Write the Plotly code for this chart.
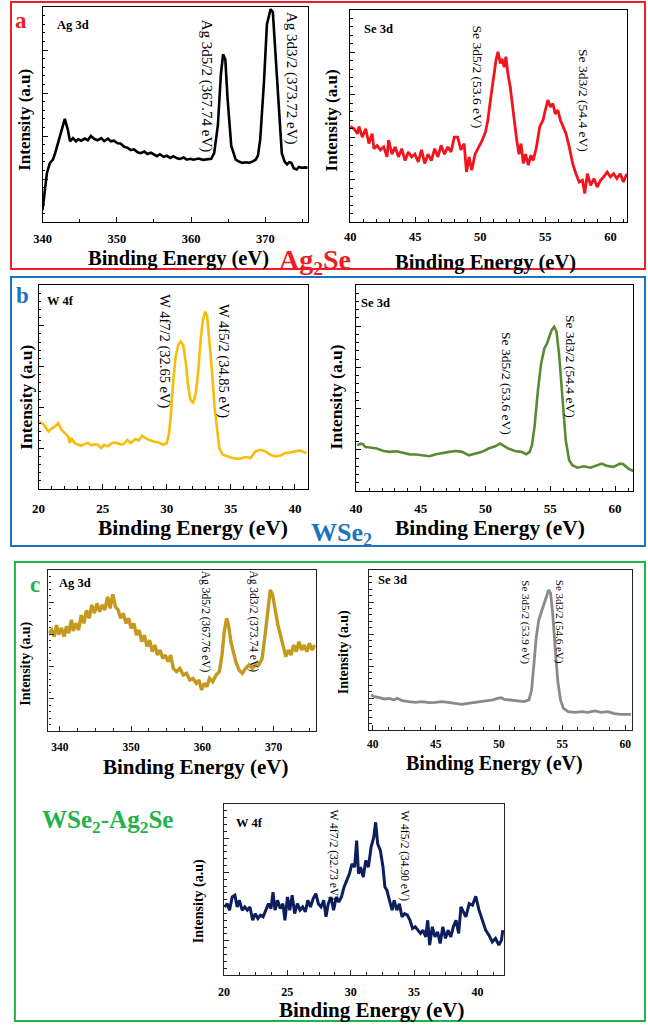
import plotly.graph_objects as go

W, H = 648, 1031

# ---------------- data (binding energy in eV, intensity in a.u.) ----------------
# (a) Ag2Se : Ag 3d
ag2se_ag_ev = [340.0, 340.3, 340.6, 341.0, 341.4, 341.7, 342.1, 342.6, 343.0, 343.4,
               343.7, 344.1, 344.5, 344.8, 345.2, 345.7, 346.1, 346.5, 347.0, 347.4,
               347.9, 348.3, 348.8, 349.2, 349.6, 350.1, 350.5, 351.0, 351.4, 351.9,
               352.3, 352.8, 353.2, 353.7, 354.1, 354.6, 355.0, 355.4, 355.8, 356.3,
               356.7, 357.2, 357.6, 358.1, 358.5, 359.0, 359.4, 359.9, 360.3, 361.0,
               361.6, 362.2, 362.7, 363.1, 363.6, 364.0, 364.3, 364.6, 364.9, 365.4,
               366.0, 366.5, 366.9, 367.4, 367.8, 368.3, 368.7, 369.0, 369.3, 369.8,
               370.2, 370.7, 371.0, 371.3, 371.8, 372.2, 372.6, 372.9, 373.2, 373.5,
               373.8, 374.2, 374.5, 374.9, 375.3, 375.7]
ag2se_ag_int = [5.5, 16, 23, 27.5, 29, 32, 37, 43, 48, 43,
                37.5, 39, 37.5, 38.5, 37.8, 38.8, 38, 40, 38.6, 38,
                39, 37.6, 38.8, 37.5, 37.8, 36.6, 36.5, 35, 34.6, 33.4,
                33.8, 32.4, 32, 32.8, 31.6, 32.2, 31.3, 30.6, 31.5, 30.3,
                30.8, 29.8, 30.6, 29.6, 29.3, 30, 29, 29.4, 29, 29.5,
                28.9, 29.3, 29.4, 32, 45, 68.5, 78, 75.6, 57.5, 35.4,
                29, 28, 27.5, 27.8, 27.5, 28.2, 29, 31, 38.5, 65,
                92, 99, 97.6, 81, 53, 32, 28, 26.8, 27.8, 27.5,
                25, 24.4, 25.6, 25.2, 25.4, 25.2]

# (a) Ag2Se : Se 3d
ag2se_se_ev = [40.0, 40.3, 40.56, 40.68, 40.93, 41.19, 41.44, 41.69, 41.82, 42.07,
               42.32, 42.58, 42.83, 42.95, 43.21, 43.46, 43.71, 43.96, 44.22, 44.47,
               44.72, 44.97, 45.23, 45.48, 45.73, 45.98, 46.24, 46.49, 46.74, 46.99,
               47.25, 47.5, 47.75, 48.0, 48.26, 48.51, 48.76, 48.94, 49.14, 49.34,
               49.6, 49.9, 50.15, 50.4, 50.58, 50.78, 51.04, 51.21, 51.36, 51.54,
               51.67, 51.84, 51.97, 52.12, 52.3, 52.47, 52.63, 52.8, 52.98, 53.13,
               53.31, 53.48, 53.69, 53.89, 54.07, 54.32, 54.57, 54.82, 55.0, 55.2,
               55.4, 55.58, 55.76, 55.96, 56.16, 56.34, 56.59, 56.84, 57.1, 57.35,
               57.6, 57.85, 58.03, 58.23, 58.48, 58.74, 58.99, 59.24, 59.49, 59.75,
               60.0, 60.25, 60.5, 60.76, 61.0, 61.26]
ag2se_se_int = [45, 44, 41.7, 45, 40, 44, 37, 41.7, 34.6, 36,
                34, 35.4, 30.7, 38.6, 32, 35.4, 30.7, 34.6, 29, 33,
                30.7, 32, 28.3, 34, 27.6, 32, 29, 34.6, 30.7, 36.2,
                32, 35.4, 33, 40, 40, 34, 37, 23.6, 30.7, 24.4,
                32, 35.4, 38.6, 42.5, 48, 57.5, 68.5, 76.4, 80.3, 74.8,
                77, 73, 78, 70, 63.8, 54.3, 48, 38.6, 32, 37,
                27.6, 32, 26.8, 31.5, 29, 35.4, 45, 48, 52.8, 57.5,
                54.3, 55.9, 51, 52.8, 48, 45, 41.7, 35.4, 27.6, 22.8,
                18.9, 19.7, 13.4, 22.8, 17.3, 20.5, 16.5, 19.7, 21.3, 23.6,
                21.3, 22.8, 20.5, 22.8, 18.9, 22.8]

# (b) WSe2 : W 4f
wse2_w_ev = [20.0, 20.26, 20.51, 20.77, 21.03, 21.28, 21.54, 21.79, 22.05, 22.31,
             22.44, 22.56, 22.82, 23.08, 23.3, 23.59, 23.85, 24.1, 24.35, 24.62,
             24.87, 25.13, 25.4, 25.64, 25.9, 26.15, 26.4, 26.67, 26.92, 27.18,
             27.56, 27.82, 28.08, 28.33, 28.59, 28.97, 29.36, 29.74, 30.0, 30.18,
             30.33, 30.51, 30.69, 30.9, 31.08, 31.28, 31.49, 31.67, 31.85, 32.05,
             32.26, 32.44, 32.64, 32.82, 33.0, 33.15, 33.33, 33.54, 33.72, 33.9,
             34.1, 34.36, 34.74, 35.13, 35.64, 36.15, 36.54, 36.92, 37.31, 37.69,
             38.08, 38.46, 38.85, 39.23, 39.62, 40.0, 40.38, 40.9]
wse2_w_int = [33.1, 32.3, 30.7, 28.2, 29.7, 30.7, 32.3, 29, 27.4, 25.8,
              22.5, 25, 22.5, 21.7, 21.2, 22, 22.6, 21.4, 21.9, 21.7,
              20, 21.7, 21, 22.2, 22.8, 22.5, 21.8, 22.2, 24.1, 22.5,
              24.5, 23.8, 26.1, 25, 24.1, 23.3, 22.8, 21.7, 22.5, 27.4,
              37.2, 53.5, 64.9, 70.6, 72.3, 70.6, 61.7, 50.2, 43.7, 42.1,
              47, 56.8, 73.1, 82.9, 87, 84.5, 73.1, 56.8, 40.5, 29,
              20, 16.8, 16, 15.2, 14.8, 15.7, 15.2, 18.4, 19.2, 18.4,
              16.8, 16, 16.3, 17.6, 17.9, 18.4, 18.9, 17.6]

# (b) WSe2 : Se 3d
wse2_se_ev = [40.08, 40.33, 40.53, 40.71, 41.09, 41.6, 42.11, 42.61, 43.12, 43.63,
              44.14, 44.64, 45.15, 45.66, 46.17, 46.68, 47.18, 47.69, 48.2, 48.71,
              49.21, 49.72, 50.23, 50.74, 51.12, 51.37, 51.75, 52.26, 52.77, 53.15,
              53.4, 53.58, 53.78, 54.04, 54.29, 54.54, 54.75, 54.92, 55.1, 55.3,
              55.48, 55.69, 55.94, 56.19, 56.45, 56.7, 57.08, 57.59, 58.1, 58.6,
              58.98, 59.37, 59.87, 60.38, 60.63, 61.02, 61.4]
wse2_se_int = [22.2, 23, 22.7, 21.4, 21.1, 20.6, 19.4, 19, 19.3, 18.5,
               17.8, 17.7, 17.3, 16.9, 17.8, 18.5, 19, 19.4, 19, 17.3,
               18.2, 19, 20.6, 21.7, 23, 22.2, 20.6, 19.4, 19, 17.8,
               19, 22.2, 31.1, 48.9, 61.9, 69.2, 71.6, 74.9, 78.1, 79.7,
               77.3, 65.2, 42.5, 24.6, 14.9, 12.5, 11.3, 12, 11.3, 12.5,
               13.3, 12.2, 11.7, 13.3, 13, 10.9, 9.7]

# (c) WSe2-Ag2Se : Ag 3d
comp_ag_ev = [338.48, 338.85, 339.22, 339.54, 339.86, 340.23, 340.6, 340.92, 341.25, 341.62,
              341.89, 342.26, 342.63, 343.0, 343.37, 343.74, 344.11, 344.48, 344.85, 345.21,
              345.58, 345.95, 346.32, 346.69, 347.06, 347.43, 347.8, 348.17, 348.54, 348.91,
              349.28, 349.64, 350.01, 350.38, 350.75, 351.12, 351.49, 351.86, 352.23, 352.6,
              352.97, 353.34, 353.71, 354.07, 354.44, 354.81, 355.18, 355.55, 355.92, 356.38,
              356.84, 357.31, 357.77, 358.23, 358.69, 359.15, 359.52, 359.89, 360.26, 360.63,
              361.0, 361.46, 361.92, 362.38, 362.75, 363.07, 363.4, 363.67, 364.0, 364.32,
              364.69, 365.15, 365.61, 366.07, 366.53, 367.0, 367.46, 367.92, 368.38, 368.75,
              369.12, 369.53, 369.86, 370.23, 370.6, 370.96, 371.33, 371.7, 372.07, 372.44,
              372.81, 373.18, 373.55, 373.92, 374.29, 374.66, 375.03, 375.4, 375.76]
comp_ag_int = [60.7, 62.7, 58.6, 65.8, 59.8, 64, 58.6, 65, 60.7, 69,
               62.1, 66.9, 62.7, 72, 66.9, 74.9, 70, 78.3, 73.1, 79.3,
               74.1, 78.3, 75.2, 83.4, 76.2, 84.9, 77.2, 75.2, 70, 73.1,
               66.9, 70, 63.8, 66.9, 59.6, 62.7, 55.5, 59.6, 52.4, 56.5,
               49.3, 53.4, 47.2, 50.3, 45.1, 47.2, 43.1, 47.2, 38.9, 36.9,
               38.9, 34.8, 35.8, 31.7, 32.7, 29.6, 31.7, 25.5, 29.6, 27.5,
               32.7, 30.6, 34.8, 36.9, 47.2, 61.7, 70, 65.8, 55.5, 49.3,
               43.1, 37.9, 35.8, 38.9, 41, 38.9, 41, 41, 45.1, 57.6,
               74.1, 87.6, 84.5, 74.1, 65.8, 59.6, 53.4, 46.2, 50.3, 47.2,
               53.4, 49.3, 55.5, 50.3, 53.4, 49.3, 54.5, 50.3, 53.4]

# (c) WSe2-Ag2Se : Se 3d
comp_se_ev = [39.87, 40.13, 40.52, 40.91, 41.3, 41.69, 41.95, 42.34, 42.86, 43.39,
              43.91, 44.43, 44.95, 45.47, 45.99, 46.51, 47.03, 47.55, 48.07, 48.59,
              49.11, 49.51, 49.9, 50.16, 50.42, 50.81, 51.2, 51.59, 51.98, 52.37,
              52.58, 52.76, 52.94, 53.15, 53.36, 53.54, 53.72, 53.93, 54.09, 54.24,
              54.45, 54.66, 54.87, 55.1, 55.49, 56.02, 56.54, 57.06, 57.58, 58.1,
              58.62, 59.14, 59.66, 60.44]
comp_se_int = [21.9, 20.8, 20.2, 19.4, 19.8, 18.8, 19.8, 18.3, 17.7, 17.3,
               17.7, 17.1, 17.3, 17.7, 17.3, 16.7, 16, 16.7, 17.3, 17.7,
               18.1, 18.8, 19.8, 20.2, 19.2, 18.8, 18.1, 18.1, 17.7, 18.8,
               25, 40.6, 57.3, 68.8, 74, 78.1, 82.3, 87.5, 85.4, 74,
               51, 30.2, 18.8, 13.5, 11.5, 11, 11.5, 11, 11.9, 11,
               11.5, 10.2, 9.8, 9.8]

# (c) WSe2-Ag2Se : W 4f
comp_w_ev = [20.05, 20.26, 20.44, 20.65, 20.86, 21.04, 21.22, 21.43, 21.64, 21.84,
             22.05, 22.26, 22.47, 22.68, 22.88, 23.09, 23.3, 23.51, 23.71, 23.87,
             24.03, 24.23, 24.44, 24.65, 24.81, 25.01, 25.19, 25.38, 25.58, 25.79,
             26.0, 26.21, 26.42, 26.62, 26.83, 27.04, 27.25, 27.45, 27.66, 27.87,
             28.05, 28.23, 28.44, 28.65, 28.86, 29.06, 29.27, 29.48, 29.69, 29.9,
             30.1, 30.31, 30.47, 30.62, 30.78, 30.99, 31.19, 31.4, 31.61, 31.82,
             31.97, 32.13, 32.34, 32.55, 32.7, 32.86, 33.06, 33.27, 33.43, 33.64,
             33.84, 34.05, 34.26, 34.47, 34.68, 34.88, 35.09, 35.3, 35.51, 35.71,
             35.92, 36.08, 36.23, 36.44, 36.65, 36.86, 37.06, 37.27, 37.48, 37.69,
             37.9, 38.1, 38.31, 38.52, 38.7, 39.09, 39.35, 39.61, 39.87, 40.13,
             40.39, 40.65, 40.91, 41.17, 41.43, 41.69, 41.9, 42.0]
comp_w_int = [39.8, 41.7, 37.9, 45.6, 46.6, 39.8, 43.7, 37.9, 39.8, 37.9,
              39.8, 32, 35.9, 33, 35, 34, 37.9, 41.7, 38.8, 48.5,
              37.9, 43.7, 38.8, 41.7, 32, 45.6, 37.9, 46.6, 35.9, 41.7,
              37.9, 39.8, 36.9, 43.7, 39.8, 44.7, 47.6, 41.7, 39.8, 43.7,
              34, 41.7, 45.6, 37.9, 45.6, 42.7, 45.6, 51.5, 55.3, 59.2,
              65, 63.1, 78.6, 59.2, 63.1, 57.3, 67, 63.1, 74.8, 80.6,
              89.3, 76.7, 72.8, 63.1, 51.5, 49.5, 43.7, 37.9, 43.7, 37.9,
              41.7, 34, 35.9, 35, 32, 27.2, 28.2, 26.2, 24.3, 26.2,
              22.3, 32, 17.5, 28.2, 22.3, 25.2, 18.4, 28.2, 21.4, 26.2,
              22.3, 28.2, 32, 24.3, 39.8, 34, 41.7, 40.8, 46, 37.9,
              32, 26.2, 23.3, 19.4, 21.4, 17.5, 20.4, 26.2]

# tick values shown on the energy axes
ag_ticks = [340, 350, 360, 370]
se_ticks = [40, 45, 50, 55, 60]
w_ticks = [20, 25, 30, 35, 40]

# --------------------------------- figure ---------------------------------------
SERIF = "Liberation Serif"

def fx(p):
    return p / W

def fy(p):
    return 1 - p / H

panels = [
    dict(ev=ag2se_ag_ev, y=ag2se_ag_int, color="#000000", lw=2.6, box=(34, 7, 303, 222),
         xr=[340, 375.7], ticks=ag_ticks, minor=5, tfs=12.5, stand=5, axc="#000000"),
    dict(ev=ag2se_se_ev, y=ag2se_se_int, color="#f2141c", lw=2.8, box=(346, 10, 627, 222),
         xr=[40, 61.3], ticks=se_ticks, minor=1, tfs=12.5, stand=3, axc="#000000"),
    dict(ev=wse2_w_ev, y=wse2_w_int, color="#f7bd0a", lw=2.6, box=(30, 285, 303, 489),
         xr=[20, 41], ticks=w_ticks, minor=1, tfs=13, stand=7, axc="#000000"),
    dict(ev=wse2_se_ev, y=wse2_se_int, color="#5a8b34", lw=2.6, box=(352, 285, 633, 491),
         xr=[40, 61.4], ticks=se_ticks, minor=1, tfs=13, stand=5, axc="#000000"),
    dict(ev=comp_ag_ev, y=comp_ag_int, color="#c39a1e", lw=3.4, box=(40, 570, 311, 731),
         xr=[338.4, 375.9], ticks=ag_ticks, minor=2.5, tfs=11.5, stand=5, axc="#222222"),
    dict(ev=comp_se_ev, y=comp_se_int, color="#8a8a8a", lw=2.8, box=(365, 570, 632, 730),
         xr=[39.7, 60.55], ticks=se_ticks, minor=1.25, tfs=11.5, stand=3, axc="#222222"),
    dict(ev=comp_w_ev, y=comp_w_int, color="#0c1f5c", lw=3.0, box=(218, 804, 502, 975),
         xr=[20, 42.1], ticks=w_ticks, minor=1.25, tfs=12, stand=5, axc="#222222"),
]

fig = go.Figure()
layout = dict(width=W, height=H, margin=dict(l=0, r=0, t=0, b=0),
              paper_bgcolor="white", plot_bgcolor="white", showlegend=False)

for i, p in enumerate(panels, start=1):
    sfx = "" if i == 1 else str(i)
    fig.add_trace(go.Scatter(x=p["ev"], y=p["y"], mode="lines",
                             line=dict(color=p["color"], width=p["lw"]),
                             xaxis="x" + sfx, yaxis="y" + sfx, hoverinfo="skip"))
    x0, y0, x1, y1 = p["box"]
    layout["xaxis" + sfx] = dict(
        domain=[fx(x0), fx(x1)], range=p["xr"], anchor="y" + sfx,
        showline=True, linecolor=p["axc"], linewidth=1.4, mirror=True,
        ticks="inside", ticklen=5, tickwidth=1.2, tickcolor=p["axc"],
        tickvals=p["ticks"], ticktext=["<b>%d</b>" % t for t in p["ticks"]],
        showgrid=False, zeroline=False, ticklabelstandoff=p["stand"],
        tickfont=dict(family=SERIF, size=p["tfs"], color="black"),
        minor=dict(ticks="inside", ticklen=3, tickwidth=1, tickcolor=p["axc"],
                   dtick=p["minor"], tick0=p["ticks"][0], showgrid=False),
    )
    layout["yaxis" + sfx] = dict(
        domain=[fy(y1), fy(y0)], range=[0, 100], anchor="x" + sfx,
        showline=True, linecolor=p["axc"], linewidth=1.4, mirror=True,
        ticks="inside", ticklen=5, tickwidth=1.2, tickcolor=p["axc"],
        dtick=20, tick0=0, showticklabels=False, showgrid=False, zeroline=False,
        minor=dict(ticks="inside", ticklen=2.5, tickwidth=1, tickcolor=p["axc"],
                   dtick=4, showgrid=False),
    )

fig.update_layout(**layout)

ann = []

def add_text(text, x, y, size, color="black", angle=0, bold=True, xanchor="center"):
    t = "<b>" + text + "</b>" if bold else text
    ann.append(dict(text=t, x=fx(x), y=fy(y), xref="paper", yref="paper",
                    xanchor=xanchor, yanchor="middle", showarrow=False, textangle=angle,
                    font=dict(family=SERIF, size=size, color=color)))

# axis titles
for (x, y, s) in [(16, 120, 17), (328, 120, 17), (17, 397, 17.5), (332, 397, 17.5),
                  (17, 664, 14), (340, 652, 14), (193, 901, 14)]:
    add_text("Intensity (a.u)", x, y, s, angle=-90)
for (x, y, s) in [(172, 258, 20.5), (483, 262, 20.5), (187, 528, 21.5), (488, 528, 21.5),
                  (190, 767, 21), (492, 763, 20), (368, 1010, 21)]:
    add_text("Binding Energy (eV)", x, y, s)

# panel core-level names
for (txt, x, y) in [("Ag 3d", 47, 25), ("Se 3d", 358, 29), ("W 4f", 37, 301),
                    ("Se 3d", 355, 303), ("Ag 3d", 49, 583), ("Se 3d", 372, 580),
                    ("W 4f", 228, 823)]:
    add_text(txt, x, y, 12.5, xanchor="left")

# peak labels (rotated)
peaks = [
    ("Ag 3d5/2 (367.74 eV)", 200, 86, 15), ("Ag 3d3/2 (373.72 eV)", 287, 78, 15),
    ("Se 3d5/2 (53.6 eV)", 475, 77, 13.5), ("Se 3d3/2 (54.4 eV)", 582, 101, 13.5),
    ("W 4f7/2 (32.65 eV)", 158, 351, 14.5), ("W 4f5/2 (34.85 eV)", 218, 361, 14.5),
    ("Se 3d5/2 (53.6 eV)", 505, 384, 13.5), ("Se 3d3/2 (54.4 eV)", 570, 366, 13.5),
    ("Ag 3d5/2 (367.76 eV)", 200, 622, 11.5), ("Ag 3d3/2 (373.74 eV)", 248, 621, 11.5),
    ("Se 3d5/2 (53.9 eV)", 524, 622, 11), ("Se 3d3/2 (54.6 eV)", 559, 622, 11),
    ("W 4f7/2 (32.73 eV)", 330, 855, 11.5), ("W 4f5/2 (34.90 eV)", 402, 856, 11.5),
]
for (txt, x, y, s) in peaks:
    add_text(txt, x, y, s, angle=90, bold=False)

RED, BLUE, GREEN = "#ee1c25", "#1b75bc", "#22b14c"
add_text("a", 12, 20, 23, color=RED)
add_text("b", 14, 295, 23, color=BLUE)
add_text("c", 26, 584, 23, color=GREEN)
add_text("Ag<sub>2</sub>Se", 310, 261, 28, color=RED)
add_text("WSe<sub>2</sub>", 337, 534, 26, color=BLUE)
add_text("WSe<sub>2</sub>-Ag<sub>2</sub>Se", 100, 821, 25, color=GREEN)

shapes = []
for (x0, y0, x1, y1, c) in [(2, 2, 645, 269, RED), (2, 277, 645, 546, BLUE),
                            (6, 562, 645, 1021, GREEN)]:
    shapes.append(dict(type="rect", xref="paper", yref="paper",
                       x0=fx(x0), x1=fx(x1), y0=fy(y1), y1=fy(y0),
                       line=dict(color=c, width=2), fillcolor="rgba(0,0,0,0)"))

fig.update_layout(annotations=ann, shapes=shapes)
fig.write_html("out.html")
